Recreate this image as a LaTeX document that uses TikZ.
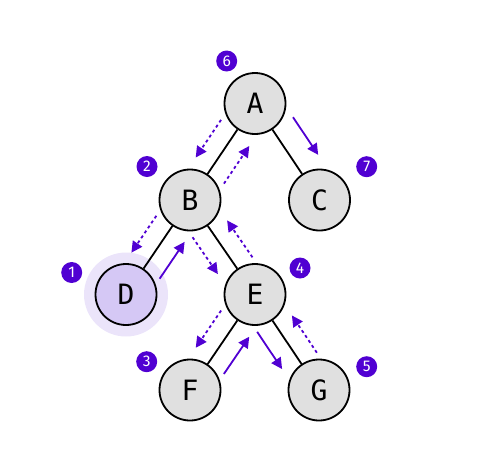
\documentclass[tikz,border=0pt]{standalone}
\usepackage{fontspec}
\setmainfont{DejaVu Sans Mono}
\newfontfamily\badgefont{Fira Sans}
\usetikzlibrary{calc,arrows.meta}
\definecolor{vio}{HTML}{5000D2}
\definecolor{ngray}{HTML}{E0E0E0}
\definecolor{dfill}{HTML}{D5C8F5}
\definecolor{halo}{HTML}{EBE4FA}
\newcommand{\trarrow}[5]{\draw[#1] ($(#2)!0.28!(#3)!#5!#4:(#3)$) -- ($(#2)!0.67!(#3)!#5!#4:(#3)$);}
\begin{document}
\begin{tikzpicture}[x=1pt,y=-1pt,
 tnode/.style={circle,draw=black,line width=1.8pt,fill=ngray,minimum size=61pt,inner sep=0pt,font=\fontsize{28}{28}\selectfont},
 badge/.style={circle,fill=vio,text=white,minimum size=21pt,inner sep=0pt,font=\badgefont\fontsize{15.5}{15.5}\selectfont},
 edge/.style={line width=1.8pt,black},
 walk/.style={vio,line width=1.8pt,-{Triangle[length=11pt,width=11pt]}},
 back/.style={walk,dash pattern=on 3pt off 3pt}]
\useasboundingbox (0,0) rectangle (489,461);
\fill[halo] (126,294.5) circle (42);
\node[tnode] (A) at (255,103.5) {A};
\node[tnode] (B) at (190,200) {B};
\node[tnode] (C) at (319.5,200) {C};
\node[tnode,fill=dfill] (D) at (126,294.5) {D};
\node[tnode] (E) at (255,294.5) {E};
\node[tnode] (F) at (190,390) {F};
\node[tnode] (G) at (319,390) {G};
\draw[edge] (A) -- (B);
\draw[edge] (A) -- (C);
\draw[edge] (B) -- (D);
\draw[edge] (B) -- (E);
\draw[edge] (E) -- (F);
\draw[edge] (E) -- (G);
\node[badge] (b1) at (71.7,272.5) {1};
\node[badge] (b2) at (147,166.5) {2};
\node[badge] (b3) at (146.7,361.7) {3};
\node[badge] (b4) at (300,268) {4};
\node[badge] (b5) at (366.7,366.7) {5};
\node[badge] (b6) at (226.7,61) {6};
\node[badge] (b7) at (366.7,166.7) {7};
\trarrow{back}{A}{B}{-90}{19pt}
\trarrow{back}{B}{D}{-90}{19pt}
\trarrow{walk}{D}{B}{-90}{19pt}
\trarrow{back}{B}{E}{-90}{19pt}
\trarrow{back}{E}{F}{-90}{19pt}
\trarrow{walk}{F}{E}{-90}{19pt}
\trarrow{walk}{E}{G}{-90}{19pt}
\trarrow{back}{G}{E}{-90}{19pt}
\trarrow{back}{E}{B}{-90}{19pt}
\trarrow{back}{B}{A}{-90}{19pt}
\trarrow{walk}{A}{C}{90}{24pt}
\end{tikzpicture}
\end{document}
